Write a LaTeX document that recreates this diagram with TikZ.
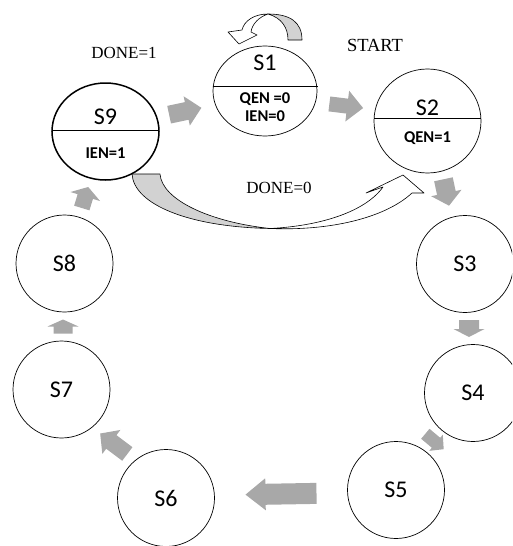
\documentclass[tikz,border=0pt]{standalone}
\usepackage{fontspec}
\setmainfont{Liberation Serif}
\newfontfamily\statefont{Carlito}
\usetikzlibrary{shapes.geometric,calc}
\definecolor{arrowgray}{HTML}{A8A8A8}
\definecolor{ribbongray}{HTML}{D2D2D2}

\begin{document}
\begin{tikzpicture}[x=1pt,y=-1pt,
  state/.style={draw, circle, line width=0.7pt, minimum size=97pt, inner sep=0pt,
    font=\statefont\fontsize{24}{28}\selectfont},
  splitstate/.style={draw, ellipse, line width=0.7pt, inner sep=0pt},
  statename/.style={inner sep=0pt, font=\statefont\fontsize{24}{28}\selectfont},
  outputs/.style={inner sep=0pt, align=center,
    font=\statefont\bfseries\fontsize{16.5}{20}\selectfont},
  cond/.style={inner sep=0pt, font=\fontsize{17}{20}\selectfont},
  ribbon/.style={draw, line width=0.6pt, line join=round},
  pics/blockarrow/.style n args={4}{code={
    \fill[arrowgray] (-#1/2,-#2/2) -- ({#1/2-#4},-#2/2) -- ({#1/2-#4},-#3/2)
      -- (#1/2,0) -- ({#1/2-#4},#3/2) -- ({#1/2-#4},#2/2) -- (-#1/2,#2/2) -- cycle;}}
]
\useasboundingbox (0,0) rectangle (512,546);
\clip (0,0) rectangle (512,546);

% states with outputs (split by a horizontal line)
\node[splitstate, minimum width=104pt, minimum height=90pt] (S1) at (265,91) {};
\node[splitstate, minimum width=107pt, minimum height=97pt, line width=1.5pt] (S9) at (105.5,131.5) {};
\node[splitstate, minimum width=107pt, minimum height=104pt] (S2) at (427.5,121) {};

\draw[line width=0.7pt] ($(S1)+(-51.7,-5)$) -- ($(S1)+(52.5,-5)$);
\draw[line width=0.7pt] ($(S9)+(-53.5,-1.5)$) -- ($(S9)+(53.5,-1.5)$);
\draw[line width=0.7pt] ($(S2)+(-53.4,-3)$) -- ($(S2)+(53.4,-3)$);

\node[statename] (S1name) at (265,63) {S1};
\node[outputs] (S1out) at (265,107) {QEN =0\\[-2pt]IEN=0};
\node[statename] (S9name) at (105.5,117) {S9};
\node[outputs] (S9out) at (105.5,153) {IEN=1};
\node[statename] (S2name) at (427.5,108) {S2};
\node[outputs] (S2out) at (427.5,138) {QEN=1};

% plain states
\node[state] (S3) at (465,264) {S3};
\node[state] (S4) at (473,393) {S4};
\node[state] (S5) at (396,490) {S5};
\node[state] (S6) at (166,498) {S6};
\node[state] (S7) at (61.5,389.5) {S7};
\node[state] (S8) at (64.5,263.5) {S8};

% transition conditions
\node[cond] (done1) at (124,53) {DONE=1};
\node[cond, font=\fontsize{18.5}{20}\selectfont] (start) at (375,45) {START};
\node[cond] (done0) at (279,188) {DONE=0};

% block arrows between consecutive states
\pic[rotate=12]  at ($(S9)!0.5!(S1)$) {blockarrow={33}{18}{30}{15}};
\pic[rotate=-7]  at ($(S1)!0.5!(S2)$) {blockarrow={34}{15}{31}{16}};
\pic[rotate=-78] at ($(S2)!0.5!(S3)$) {blockarrow={27}{19}{31}{13}};
\pic[rotate=-90] at ($(S3)!0.5!(S4)$) {blockarrow={17}{20}{31}{8}};
\pic[rotate=-40] at ($(S4)!0.5!(S5)$) {blockarrow={24}{13}{21}{10}};
\pic[rotate=181] at ($(S5)!0.5!(S6)$) {blockarrow={71}{21}{32}{20}};
\pic[rotate=143] at ($(S6)!0.5!(S7)$) {blockarrow={34}{17}{30}{14}};
\pic[rotate=90]  at ($(S7)!0.5!(S8)$) {blockarrow={14}{19}{31}{7}};
\pic[rotate=73]  at ($(S8)!0.5!(S9)$) {blockarrow={22}{16}{31}{10}};

% curved arrow S9 -> S2 (DONE=0): shaded underside, then the front face
\path[ribbon, fill=ribbongray]
  (132,174) -- (160,174) .. controls (162,200) and (210,222) .. (270,228.5)
  .. controls (190,227) and (134,205) .. (132,174) -- cycle;
\path[ribbon, fill=white]
  (270,228.5) .. controls (320,226) and (365,212) .. (383,187)
  -- (366,193) -- (403,175) -- (424,193) -- (412,193)
  .. controls (385,218) and (330,231) .. (270,228.5) -- cycle;

% self loop on S1
\path[ribbon, fill=ribbongray]
  (302,40) .. controls (302,22) and (290,14) .. (268,14)
  .. controls (282,18) and (288,28) .. (288,40) -- cycle;
\path[ribbon, fill=white]
  (268,14) .. controls (254,14) and (244,21) .. (242,30)
  -- (228,32) -- (239,44) -- (257,35) -- (251,32)
  .. controls (252,24) and (259,17) .. (268,14) -- cycle;
\end{tikzpicture}
\end{document}
